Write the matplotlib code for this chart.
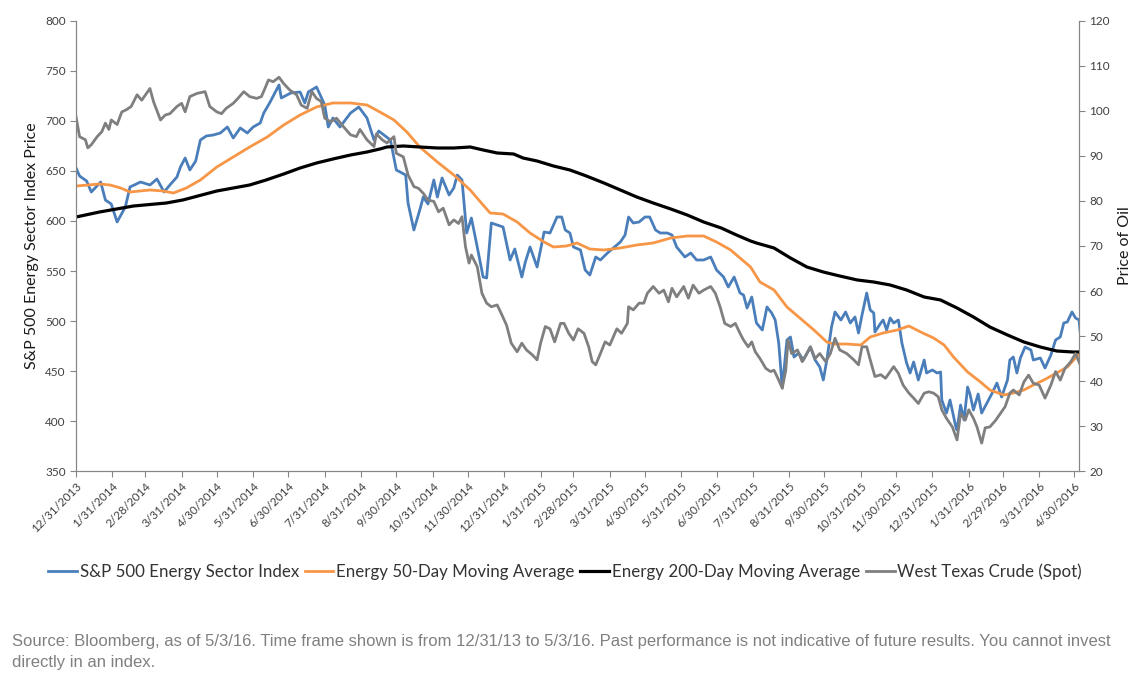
import matplotlib
matplotlib.use("Agg")
import matplotlib.pyplot as plt
import pandas as pd

plt.rcParams['font.family'] = ['Lato', 'DejaVu Sans']

START = pd.Timestamp("2013-12-31")

# S&P 500 Energy Sector Index (days after 12/31/2013, index level)
spx_days = [0, 3, 9, 13, 21, 25, 30, 35, 42, 46, 55, 63, 69, 75, 80, 86, 89, 93, 97, 102,
            106, 111, 117, 123, 129, 134, 140, 146, 151, 157, 160, 165, 173, 175, 183, 191,
            195, 198, 205, 212, 215, 219, 225, 234, 241, 248, 254, 258, 268, 273, 281, 283,
            288, 293, 296, 300, 305, 308, 312, 318, 322, 325, 329, 333, 337, 342, 347, 350,
            354, 359, 364, 370, 374, 380, 383, 387, 393, 399, 404, 410, 414, 417, 421, 424,
            430, 434, 438, 443, 447, 453, 458, 464, 468, 471, 475, 480, 485, 489, 494, 498,
            504, 508, 512, 519, 524, 529, 535, 541, 546, 552, 556, 561, 566, 569, 572, 576,
            580, 585, 589, 593, 596, 599, 602, 606, 609, 612, 616, 620, 626, 630, 634, 637,
            640, 644, 647, 652, 656, 660, 664, 667, 670, 674, 677, 680, 681, 686, 688, 691,
            694, 697, 701, 704, 708, 711, 714, 718, 723, 725, 730, 734, 737, 738, 742, 745,
            750, 751, 754, 757, 760, 762, 765, 769, 772, 777, 781, 785, 789, 794, 796, 799,
            802, 805, 809, 814, 816, 822, 826, 831, 835, 839, 842, 845, 849, 852, 855, 856]
spx_vals = [653, 645, 640, 629, 639, 621, 617, 599, 614, 634, 639, 636, 642, 629, 636, 644,
            654, 663, 651, 660, 681, 685, 686, 688, 694, 683, 693, 688, 694, 698, 708, 718,
            736, 723, 728, 729, 718, 729, 734, 716, 694, 703, 694, 708, 714, 703, 681, 690,
            681, 651, 646, 618, 591, 611, 624, 617, 641, 624, 643, 626, 633, 646, 641, 588,
            603, 574, 544, 543, 598, 596, 594, 561, 572, 544, 559, 574, 554, 589, 588, 604,
            604, 591, 588, 574, 571, 551, 546, 564, 561, 568, 573, 579, 586, 604, 598, 599,
            604, 604, 591, 588, 588, 586, 574, 564, 568, 561, 561, 564, 551, 544, 534, 544,
            528, 526, 513, 524, 498, 491, 514, 508, 501, 478, 433, 481, 484, 464, 468, 461,
            474, 461, 454, 441, 461, 494, 509, 501, 509, 498, 504, 488, 506, 528, 511, 508,
            489, 498, 501, 491, 503, 498, 501, 478, 458, 448, 459, 441, 461, 448, 451, 448,
            449, 421, 408, 421, 394, 391, 416, 401, 434, 427, 411, 427, 408, 419, 428, 438,
            424, 441, 461, 464, 448, 463, 474, 471, 461, 463, 453, 466, 481, 484, 498, 499,
            509, 503, 501, 489]

# Energy 50-day moving average
ma50_days = [0, 20, 29, 38, 46, 63, 74, 83, 94, 106, 120, 134, 148, 163, 177, 191, 205, 219,
             234, 248, 259, 271, 282, 293, 308, 322, 336, 347, 353, 364, 376, 387, 399, 407,
             418, 427, 438, 450, 464, 478, 492, 507, 521, 535, 546, 558, 566, 575, 583, 595,
             606, 617, 629, 640, 646, 657, 669, 677, 688, 700, 710, 720, 731, 740, 748, 760,
             771, 779, 791, 799, 808, 816, 825, 836, 845, 852, 856]
ma50_vals = [635, 637, 636, 633, 629, 631, 630, 628, 633, 641, 654, 664, 674, 684, 696, 706,
             714, 718, 718, 716, 709, 701, 689, 674, 659, 646, 631, 616, 608, 607, 599, 588,
             579, 574, 575, 578, 572, 571, 573, 576, 578, 583, 585, 585, 579, 571, 563, 554,
             539, 531, 514, 503, 491, 479, 477, 477, 476, 484, 488, 491, 495, 489, 483, 476,
             464, 449, 439, 431, 426, 428, 431, 436, 441, 448, 454, 463, 468]

# Energy 200-day moving average
ma200_days = [0, 20, 49, 77, 91, 120, 148, 162, 177, 191, 205, 219, 234, 248, 259, 265, 279,
              293, 308, 322, 336, 347, 359, 373, 381, 393, 407, 421, 435, 450, 464, 478, 492,
              507, 521, 535, 550, 563, 575, 580, 595, 609, 623, 637, 651, 666, 680, 694, 708,
              723, 737, 751, 765, 779, 794, 808, 822, 836, 850, 856]
ma200_vals = [604, 609, 615, 618, 621, 630, 636, 641, 647, 653, 658, 662, 666, 669, 672, 674,
              675, 674, 673, 673, 674, 671, 668, 667, 663, 660, 655, 651, 645, 638, 631, 624,
              618, 612, 606, 599, 593, 586, 580, 578, 573, 563, 554, 549, 545, 541, 539, 536,
              531, 524, 521, 513, 504, 494, 486, 479, 474, 470, 469, 469]

# West Texas Crude spot price (right axis)
wti_days = [0, 3, 8, 10, 13, 18, 22, 25, 28, 30, 35, 39, 43, 47, 52, 56, 60, 63, 66, 72, 76,
            80, 86, 90, 93, 97, 103, 110, 114, 120, 124, 128, 134, 138, 143, 148, 154, 158,
            161, 164, 168, 173, 177, 182, 188, 192, 197, 201, 205, 209, 212, 217, 222, 228,
            234, 239, 242, 248, 254, 256, 261, 265, 271, 273, 279, 283, 288, 292, 296, 300,
            305, 309, 313, 318, 322, 326, 329, 332, 335, 337, 342, 346, 350, 354, 359, 363,
            367, 371, 376, 380, 384, 389, 393, 396, 400, 404, 408, 413, 416, 420, 424, 428,
            433, 437, 440, 443, 447, 451, 455, 461, 465, 470, 471, 475, 480, 484, 487, 492,
            497, 501, 505, 508, 512, 518, 522, 526, 531, 535, 541, 545, 549, 553, 558, 562,
            566, 569, 573, 576, 579, 583, 588, 592, 595, 599, 602, 605, 607, 610, 615, 619,
            623, 626, 630, 634, 639, 643, 647, 651, 657, 663, 667, 670, 674, 677, 681, 686,
            690, 694, 697, 701, 705, 710, 714, 718, 723, 727, 731, 735, 738, 742, 747, 751,
            754, 758, 761, 765, 768, 772, 775, 779, 784, 788, 792, 796, 799, 804, 808, 812,
            816, 821, 826, 831, 835, 839, 843, 848, 852, 856]
wti_vals = [98.7, 94.3, 93.6, 91.8, 92.5, 94.3, 95.4, 97.3, 95.9, 98.0, 97.0, 99.8, 100.3,
            101.0, 103.6, 102.4, 103.9, 105.0, 102.1, 98.0, 99.1, 99.4, 101.0, 101.7, 99.8,
            103.2, 103.9, 104.3, 101.0, 99.8, 99.4, 100.6, 101.7, 102.8, 104.3, 103.2, 102.8,
            103.2, 105.0, 106.9, 106.5, 107.5, 106.1, 104.7, 103.6, 101.3, 100.6, 104.3,
            102.8, 102.1, 98.4, 97.6, 98.4, 96.5, 94.7, 94.3, 95.9, 93.6, 92.1, 94.9, 93.6,
            92.9, 94.3, 90.6, 89.8, 85.8, 83.2, 82.8, 81.7, 80.2, 79.9, 77.6, 78.4, 74.7,
            75.8, 75.0, 76.5, 69.8, 66.2, 68.0, 65.4, 59.5, 57.3, 56.5, 56.9, 54.7, 52.4,
            48.4, 46.5, 48.4, 46.9, 45.8, 44.7, 48.4, 52.1, 51.6, 48.7, 52.8, 52.8, 50.6,
            49.1, 51.6, 50.6, 47.6, 44.3, 43.6, 46.1, 48.7, 48.0, 51.6, 50.6, 52.8, 56.5,
            55.8, 57.3, 57.3, 59.5, 61.0, 59.5, 60.2, 57.6, 60.6, 58.7, 61.0, 58.4, 61.3,
            59.5, 60.2, 61.0, 59.5, 56.5, 52.8, 52.1, 52.8, 50.6, 49.1, 47.6, 48.7, 46.5,
            45.0, 42.8, 42.1, 42.4, 40.2, 38.4, 42.4, 49.1, 46.1, 46.9, 44.3, 46.1, 47.6,
            45.0, 46.1, 44.3, 46.1, 49.5, 46.9, 46.1, 44.7, 43.6, 47.6, 47.6, 44.7, 41.0,
            41.4, 40.6, 42.1, 43.2, 41.7, 39.1, 37.3, 36.2, 35.0, 37.3, 37.6, 37.3, 36.5,
            33.6, 31.7, 29.8, 26.9, 32.8, 31.3, 33.6, 31.7, 29.8, 26.2, 29.6, 29.8, 31.3,
            32.8, 34.3, 37.3, 38.0, 36.9, 39.8, 41.3, 39.5, 39.1, 36.2, 39.1, 42.1, 40.2,
            42.8, 44.3, 46.1, 43.6]

tick_dates = pd.date_range("2013-12-31", "2016-04-30", freq="ME")


def to_dates(days):
    return START + pd.to_timedelta(days, unit="D")


fig = plt.figure(figsize=(11.3, 6.86), dpi=100)
ax = fig.add_axes([0.0673, 0.3134, 0.8876, 0.656])
ax2 = ax.twinx()

l1, = ax.plot(to_dates(spx_days), spx_vals, color="#4A7EBB", lw=2.0,
              label="S&P 500 Energy Sector Index")
l2, = ax.plot(to_dates(ma50_days), ma50_vals, color="#F79646", lw=2.0,
              label="Energy 50-Day Moving Average")
l3, = ax.plot(to_dates(ma200_days), ma200_vals, color="#000000", lw=2.3,
              label="Energy 200-Day Moving Average")
l4, = ax2.plot(to_dates(wti_days), wti_vals, color="#7F7F7F", lw=2.0,
               label="West Texas Crude (Spot)")

ax.set_xlim(START, START + pd.Timedelta(days=855))
ax.set_ylim(350, 800)
ax2.set_ylim(20, 120)
ax.set_yticks(range(350, 801, 50))
ax2.set_yticks(range(20, 121, 10))

ax.set_xticks(tick_dates)
ax.set_xticklabels([f"{d.month}/{d.day}/{d.year}" for d in tick_dates],
                   rotation=45, ha="right", va="top", rotation_mode="anchor")

spine_col = "#868686"
for a in (ax, ax2):
    a.spines["top"].set_visible(False)
    for s in ("left", "right", "bottom"):
        a.spines[s].set_color(spine_col)
    a.tick_params(colors=spine_col, labelcolor="#404040", labelsize=8.5, length=4)
ax.tick_params(axis="x", pad=3)

ax.set_ylabel("S&P 500 Energy Sector Index Price", fontsize=11.5, color="#1a1a1a")
ax.yaxis.set_label_coords(-0.037, 0.5)
ax2.set_ylabel("Price of Oil", fontsize=11.5, color="#1a1a1a")
ax2.yaxis.set_label_coords(1.039, 0.5)

fig.legend(handles=[l1, l2, l3, l4], loc="center", bbox_to_anchor=(0.5, 0.166), ncol=4,
           frameon=False, fontsize=12.2, handlelength=1.7, handletextpad=0.15,
           columnspacing=0.35, labelcolor="#333333")

note = ("Source: Bloomberg, as of 5/3/16. Time frame shown is from 12/31/13 to 5/3/16. "
        "Past performance is not indicative of future results. You cannot invest\n"
        "directly in an index.")
fig.text(0.011, 0.024, note, fontsize=12, color="#808080", ha="left", va="bottom",
         linespacing=1.45, family=["Liberation Sans", "DejaVu Sans"])

fig.savefig("out.png", dpi=100)
